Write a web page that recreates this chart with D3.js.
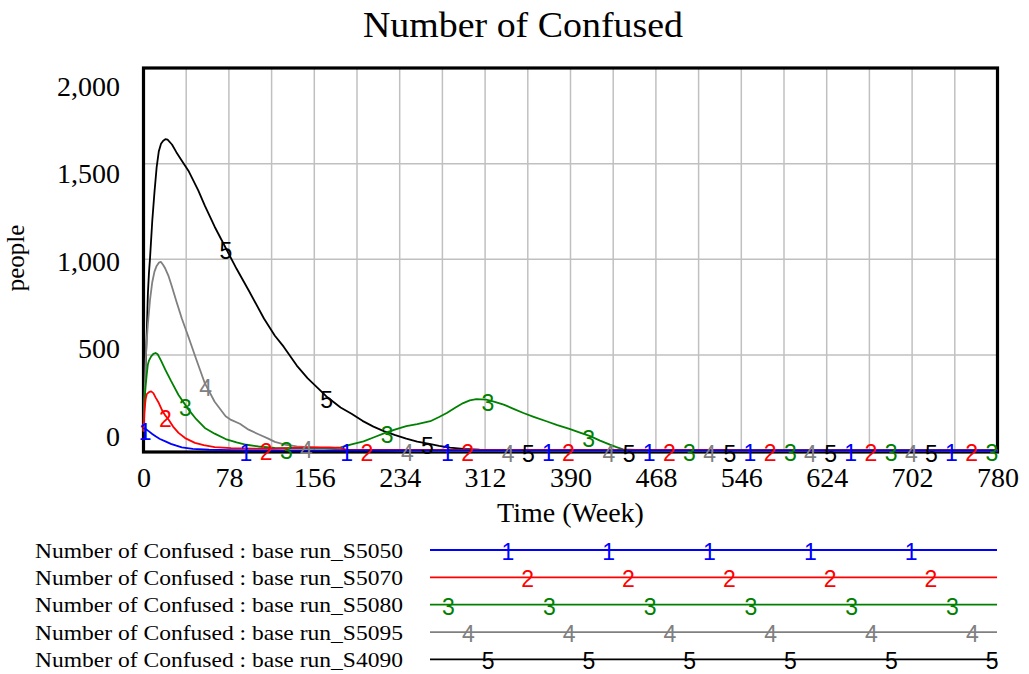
<!DOCTYPE html>
<html>
<head>
<meta charset="utf-8">
<script src="https://cdn.jsdelivr.net/npm/d3@7"></script>
<style>
  html, body { margin: 0; padding: 0; background: #fff; }
  svg { display: block; }
</style>
</head>
<body>
<svg id="chart" width="1029" height="674"></svg>
<script>
// ---------------- data ----------------
const chartTitle = "Number of Confused";
const xAxisTitle = "Time (Week)";
const yAxisTitle = "people";
const xTickValues = [0, 78, 156, 234, 312, 390, 468, 546, 624, 702, 780];
const yTickValues = [0, 500, 1000, 1500, 2000];
const xGridValues = [0, 39, 78, 117, 156, 195, 234, 273, 312, 351, 390, 429, 468, 507, 546, 585, 624, 663, 702, 741, 780];
const yGridValues = [500, 1000, 1500];

const seriesNames = ["base run_S5050", "base run_S5070", "base run_S5080", "base run_S5095", "base run_S4090"];
const seriesMarks = ["1", "2", "3", "4", "5"];
const seriesColors = ["#0000ff", "#ff0000", "#008000", "#808080", "#000000"];

const weeksS5050 = [0, 2, 5, 8, 11, 15, 20, 25, 30, 35, 45, 60, 80, 100, 780];
const valuesS5050 = [118, 112, 100, 86, 74, 60, 48, 35, 25, 16, 8, 4, 2, 1, 0];

const weeksS5070 = [0, 1, 2, 3, 5, 7, 9, 11, 14, 17, 20, 23, 27, 32, 38, 47, 55, 65, 80, 100, 120, 137, 150, 170, 180, 185, 200, 530, 545, 780];
const valuesS5070 = [100, 220, 270, 295, 305, 309, 300, 278, 248, 210, 182, 161, 125, 92, 65, 40, 28, 18, 12, 10, 10, 14, 16, 16, 14, 5, 3, 3, 0.5, 0.5];

const weeksS5080 = [0, 1, 2, 3, 4, 5, 7, 9, 11, 13, 16, 20, 25, 32, 41, 48, 56, 65, 75, 85, 94, 105, 120, 140, 175, 180, 190, 201, 210, 222, 231, 240, 250, 262, 270, 277, 285, 292, 298, 304, 313, 320, 329, 338, 347, 357, 368, 378, 389, 398, 408, 417, 426, 432, 438, 450, 470, 780];
const valuesS5080 = [100, 270, 340, 400, 450, 470, 492, 505, 510, 503, 470, 422, 365, 290, 215, 165, 118, 88, 60, 42, 30, 21, 14, 12, 14, 16, 32, 48, 68, 95, 112, 127, 138, 153, 175, 196, 225, 248, 262, 269, 266, 256, 240, 218, 196, 175, 153, 133, 113, 95, 75, 52, 31, 18, 6, 3, 2, 2];

const weeksS5095 = [0, 1, 2, 3, 4, 6, 8, 10, 12, 14, 16, 18, 20, 23, 26, 30, 35, 41, 48, 56, 65, 75, 80, 88, 96, 105, 114, 120, 130, 140, 150, 160, 170, 180, 200, 250, 780];
const valuesS5095 = [100, 300, 470, 580, 660, 790, 880, 935, 965, 982, 986, 970, 950, 910, 856, 780, 690, 595, 480, 352, 255, 179, 160, 140, 109, 85, 62, 45, 30, 22, 18, 15, 10, 5, 2, 0, 0];

const weeksS4090 = [0, 1, 2, 3, 4, 5, 6, 8, 10, 12, 14, 16, 18, 20, 22, 26, 30, 35, 41, 50, 56, 65, 75, 85, 96, 110, 120, 128, 140, 150, 160, 168, 180, 190, 200, 210, 220, 230, 240, 250, 260, 270, 280, 292, 307, 330, 350, 780];
const valuesS4090 = [100, 280, 450, 620, 820, 930, 1010, 1200, 1350, 1480, 1565, 1604, 1620, 1628, 1625, 1600, 1560, 1515, 1463, 1360, 1280, 1170, 1060, 950, 838, 690, 600, 543, 444, 377, 322, 278, 225, 192, 155, 125, 100, 80, 62, 46, 36, 24, 15, 8, 4, 1, 0, 0];

const seriesWeeks = [weeksS5050, weeksS5070, weeksS5080, weeksS5095, weeksS4090];
const seriesValues = [valuesS5050, valuesS5070, valuesS5080, valuesS5095, valuesS4090];

// ---------------- layout ----------------
const W = 1029, H = 674;
const plot = { left: 143.5, right: 997.5, top: 68, bottom: 452 };
const serif = "'Liberation Serif', 'Times New Roman', Times, serif";
const sans = "'Liberation Sans', Arial, Helvetica, sans-serif";

const svg = d3.select("#chart");

const x = d3.scaleLinear().domain([0, 780]).range([plot.left, plot.right]);
const y = d3.scaleLinear().domain([0, 2000]).range([plot.bottom - 1.5, plot.top]);
// Vensim spaces its value labels on a slightly different span than the grid
const yLabel = d3.scaleLinear().domain([0, 2000]).range([445, 95]);

// gridlines
const grid = svg.append("g").attr("stroke", "#c0c0c0").attr("stroke-width", 1.5);
grid.selectAll("line.v").data(xGridValues).join("line")
  .attr("class", "v")
  .attr("x1", d => x(d)).attr("x2", d => x(d))
  .attr("y1", plot.top).attr("y2", plot.bottom);
grid.selectAll("line.h").data(yGridValues).join("line")
  .attr("class", "h")
  .attr("x1", plot.left).attr("x2", plot.right)
  .attr("y1", d => y(d)).attr("y2", d => y(d));

// frame
svg.append("rect")
  .attr("x", plot.left).attr("y", plot.top)
  .attr("width", plot.right - plot.left).attr("height", plot.bottom - plot.top)
  .attr("fill", "none").attr("stroke", "#000").attr("stroke-width", 3.2);

// series lines (drawn 5..1 so the blue run sits on top at the baseline)
const line = d3.line().x(d => x(d[0])).y(d => y(d[1]));
const order = [4, 3, 2, 1, 0];
order.forEach(i => {
  const pts = seriesWeeks[i].map((w, k) => [w, seriesValues[i][k]]);
  svg.append("path")
    .datum(pts)
    .attr("fill", "none")
    .attr("stroke", seriesColors[i])
    .attr("stroke-width", 1.8)
    .attr("stroke-linejoin", "round")
    .attr("d", line);
});

// value at a given week (linear interpolation of the read data)
function valueAt(i, w) {
  const ws = seriesWeeks[i], vs = seriesValues[i];
  const j = d3.bisectRight(ws, w);
  if (j <= 0) return vs[0];
  if (j >= ws.length) return vs[vs.length - 1];
  const t = (w - ws[j - 1]) / (ws[j] - ws[j - 1]);
  return vs[j - 1] + t * (vs[j] - vs[j - 1]);
}

// in-plot markers
const markerStep = 100.8, markerShift = 20.2, markerStart = 1.6;
const markerG = svg.append("g")
  .attr("font-family", sans).attr("font-size", 23).attr("text-anchor", "middle");
order.forEach(i => {
  const xs = [];
  for (let px = plot.left + markerStart + markerShift * i; px <= plot.right; px += markerStep) xs.push(px);
  markerG.selectAll(null).data(xs).join("text")
    .attr("x", d => d)
    .attr("y", d => y(valueAt(i, x.invert(d))) + 11)
    .attr("fill", seriesColors[i])
    .text(seriesMarks[i]);
});

// x axis labels
const xAxis = d3.axisBottom(x).tickValues(xTickValues).tickSize(0).tickFormat(d3.format("d"));
const gx = svg.append("g").attr("transform", `translate(0,${plot.bottom})`).call(xAxis);
gx.select(".domain").remove();
gx.selectAll("text")
  .attr("y", 35).attr("dy", 0)
  .attr("font-family", serif).attr("font-size", 28).attr("fill", "#000");

// y axis labels
const yAxis = d3.axisLeft(yLabel).tickValues(yTickValues).tickSize(0).tickPadding(0).tickFormat(d3.format(","));
const gy = svg.append("g").attr("transform", "translate(120,0)").call(yAxis);
gy.select(".domain").remove();
gy.selectAll("text")
  .attr("dy", 0)
  .attr("font-family", serif).attr("font-size", 28).attr("fill", "#000");

// titles
svg.append("text")
  .attr("x", 523).attr("y", 37)
  .attr("text-anchor", "middle")
  .attr("font-family", serif).attr("font-size", 36)
  .attr("textLength", 320).attr("lengthAdjust", "spacingAndGlyphs")
  .text(chartTitle);

svg.append("text")
  .attr("x", (plot.left + plot.right) / 2).attr("y", 522)
  .attr("text-anchor", "middle")
  .attr("font-family", serif).attr("font-size", 28)
  .text(xAxisTitle);

svg.append("text")
  .attr("transform", "translate(24,258) rotate(-90)")
  .attr("text-anchor", "middle")
  .attr("font-family", serif).attr("font-size", 25)
  .text(yAxisTitle);

// legend
const legend = { textX: 35, textLen: 368, lineX1: 430, lineX2: 997, rowY: 550, rowGap: 27.35 };
const legendMarkStart = 18.5, legendMarkShift = 19.8;
seriesNames.forEach((name, i) => {
  const ly = legend.rowY + legend.rowGap * i;
  svg.append("text")
    .attr("x", legend.textX).attr("y", ly + 7.5)
    .attr("font-family", serif).attr("font-size", 22)
    .attr("textLength", legend.textLen).attr("lengthAdjust", "spacingAndGlyphs")
    .text(chartTitle + " : " + name);
  svg.append("line")
    .attr("x1", legend.lineX1).attr("x2", legend.lineX2)
    .attr("y1", ly).attr("y2", ly)
    .attr("stroke", seriesColors[i]).attr("stroke-width", 1.8);
  const j = (i + 3) % 5;
  const xs = [];
  for (let px = legend.lineX1 + legendMarkStart + legendMarkShift * j; px <= legend.lineX2; px += markerStep) xs.push(px);
  svg.append("g").selectAll("text").data(xs).join("text")
    .attr("x", d => d).attr("y", ly + 10)
    .attr("text-anchor", "middle")
    .attr("font-family", sans).attr("font-size", 23)
    .attr("fill", seriesColors[i])
    .text(seriesMarks[i]);
});
</script>
</body>
</html>
